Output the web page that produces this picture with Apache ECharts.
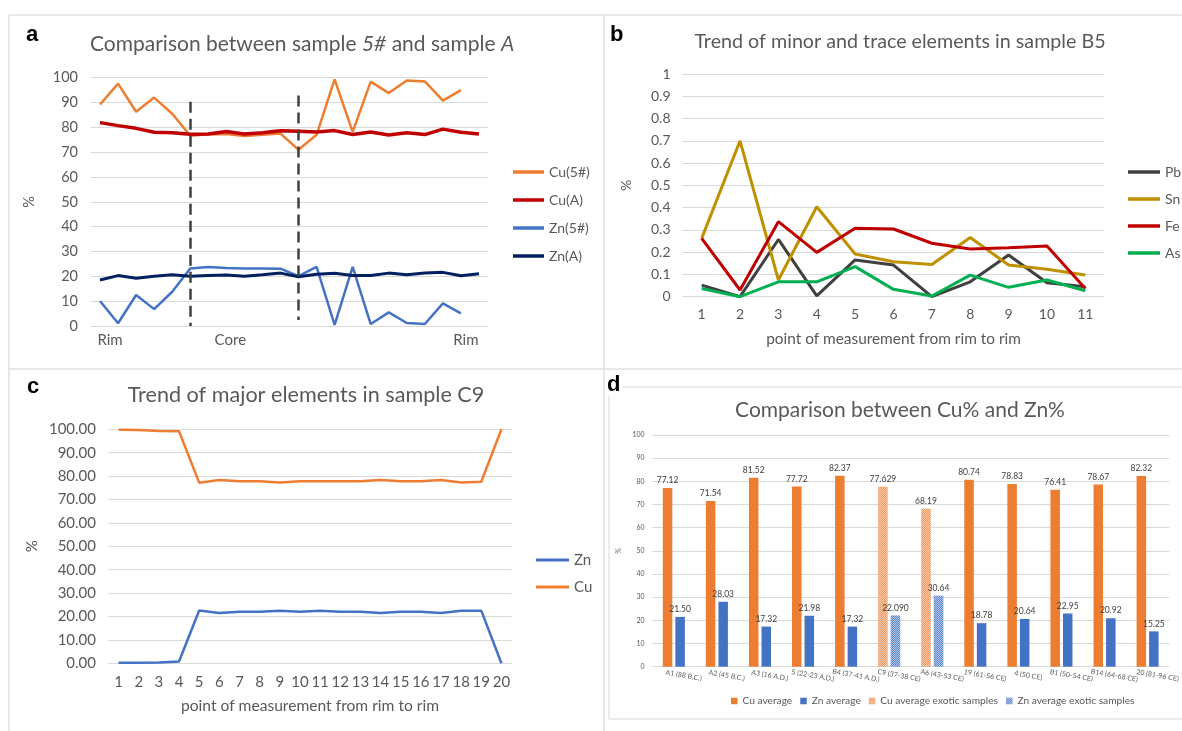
<!DOCTYPE html>
<html><head><meta charset="utf-8">
<script src="https://cdn.jsdelivr.net/npm/echarts@6/dist/echarts.min.js"></script>
<style>html,body{margin:0;padding:0;background:#fff}#c{width:1182px;height:731px}</style>
</head><body><div id="c"></div>
<script>
// ---------- Panel a ----------
const aCategories = ['1','2','3','4','5','6','7','8','9','10','11','12','13','14','15','16','17','18','19','20','21','22'];
const aTickLabels = ['Rim','','','','','','','Core','','','','','','','','','','','','','Rim',''];
const aCu5 = [89.2, 97.6, 86.3, 92.0, 85.5, 76.6, 77.2, 77.3, 76.5, 77.0, 77.5, 71.0, 77.0, 99.3, 78.2, 98.4, 93.8, 98.9, 98.5, 90.8, 95.0, null];
const aCuA = [81.9, 80.7, 79.6, 78.0, 77.8, 77.2, 77.3, 78.3, 77.3, 77.8, 78.6, 78.4, 78.1, 78.7, 77.1, 78.1, 76.9, 77.8, 77.1, 79.3, 78.0, 77.3];
const aZn5 = [10.1, 1.1, 12.5, 6.8, 13.8, 23.2, 23.8, 23.4, 23.2, 23.2, 23.1, 20.1, 23.8, 0.5, 23.8, 0.8, 5.5, 1.2, 0.8, 9.1, 5.1, null];
const aZnA = [18.5, 20.3, 19.2, 20.0, 20.6, 20.0, 20.3, 20.5, 20.0, 20.6, 21.3, 19.8, 20.8, 21.2, 20.3, 20.3, 21.3, 20.6, 21.3, 21.6, 20.2, 21.0];
const aDividers = [{at:'6', from:90.3, to:0}, {at:'12', from:92.8, to:2.4}];

// ---------- Panel b ----------
const bCategories = ['1','2','3','4','5','6','7','8','9','10','11'];
const bPb = [0.052, 0.0, 0.257, 0.004, 0.165, 0.142, 0.0, 0.067, 0.187, 0.063, 0.045];
const bSn = [0.262, 0.700, 0.075, 0.404, 0.192, 0.157, 0.145, 0.266, 0.142, 0.123, 0.097];
const bFe = [0.262, 0.030, 0.337, 0.199, 0.307, 0.304, 0.240, 0.214, 0.220, 0.228, 0.037];
const bAs = [0.037, 0.0, 0.067, 0.067, 0.135, 0.033, 0.003, 0.097, 0.042, 0.075, 0.027];

// ---------- Panel c ----------
const cCategories = ['1','2','3','4','5','6','7','8','9','10','11','12','13','14','15','16','17','18','19','20'];
const cZn = [0.2, 0.2, 0.3, 0.8, 22.6, 21.5, 22.0, 22.0, 22.5, 22.0, 22.5, 22.0, 22.0, 21.5, 22.0, 22.0, 21.5, 22.5, 22.5, 0.0];
const cCu = [99.8, 99.7, 99.3, 99.2, 77.2, 78.3, 77.8, 77.8, 77.3, 77.8, 77.8, 77.8, 77.8, 78.3, 77.8, 77.8, 78.3, 77.3, 77.6, 100.0];

// ---------- Panel d ----------
const dCategories = ['A1 (88 B.C.)','A2 (45 B.C.)','A3 (16 A.D.)','5 (22-23 A.D.)','B4 (37-41 A.D.)','C9 (37-38 CE)','A6 (43-53 CE)','19 (61-56 CE)','4 (50 CE)','B1 (50-54 CE)','B14 (64-68 CE)','20 (81-96 CE)'];
const dCu = [77.12, 71.54, 81.52, 77.72, 82.37, 77.629, 68.19, 80.74, 78.83, 76.41, 78.67, 82.32];
const dZn = [21.50, 28.03, 17.32, 21.98, 17.32, 22.090, 30.64, 18.78, 20.64, 22.95, 20.92, 15.25];
const dCuText = ['77.12','71.54','81.52','77.72','82.37','77.629','68.19','80.74','78.83','76.41','78.67','82.32'];
const dZnText = ['21.50','28.03','17.32','21.98','17.32','22.090','30.64','18.78','20.64','22.95','20.92','15.25'];
const dExotic = [false,false,false,false,false,true,true,false,false,false,false,false];

const TXT = '#595959', GRID = '#d9d9d9', FONT = 'Lato';
const chart = echarts.init(document.getElementById('c'), null, {renderer:'canvas'});

function lineSeries(name, data, color, width, xi) {
  return {type:'line', name, data, xAxisIndex:xi, yAxisIndex:xi, showSymbol:false, symbol:'none',
    connectNulls:false, itemStyle:{color}, lineStyle:{color, width}, emphasis:{disabled:true}};
}
function yAx(gi, min, max, interval, fs, margin, fmt, nameGap) {
  return {type:'value', gridIndex:gi, min, max, interval, name:'%', nameLocation:'middle', nameRotate:90, nameGap,
    nameTextStyle:{color:TXT, fontSize:fs, fontFamily:FONT},
    axisLine:{show:false}, axisTick:{show:false},
    axisLabel:{color:TXT, fontSize:fs, fontFamily:FONT, margin, formatter:fmt},
    splitLine:{lineStyle:{color:GRID, width:1}}};
}
function xAx(gi, data, extra) {
  return Object.assign({type:'category', gridIndex:gi, data, boundaryGap:true,
    axisLine:{show:false}, axisTick:{show:false}, splitLine:{show:false}}, extra);
}

const cuNormal = dCu.map((v,i)=>dExotic[i]?null:v);
const cuExo = dCu.map((v,i)=>dExotic[i]?v:null);
const znNormal = dZn.map((v,i)=>dExotic[i]?null:v);
const znExo = dZn.map((v,i)=>dExotic[i]?v:null);
const checker = (c)=>({symbol:'rect', symbolSize:1, dashArrayX:[[1,1],[0,1,1,0]], dashArrayY:[1,0], color:c});
function barSeries(name, data, stack, color, texts, decal) {
  const s = {type:'bar', name, data, stack, xAxisIndex:3, yAxisIndex:3, barWidth:9.5, barGap:'32%',
    itemStyle:{color}, emphasis:{disabled:true},
    label:{show:true, position:'top', distance:3, fontSize:8.5, color:'#404040', fontFamily:FONT,
      formatter:p=> (p.value==null? '' : texts[p.dataIndex])}};
  if (decal) s.itemStyle.decal = decal;
  return s;
}

const option = {
  animation:false,
  backgroundColor:'#ffffff',
  textStyle:{fontFamily:FONT},
  graphic:[
    {type:'line', shape:{x1:9,y1:15,x2:1182,y2:15}, style:{stroke:'#e0e0e0', lineWidth:1.5}},
    {type:'line', shape:{x1:9,y1:15,x2:9,y2:731}, style:{stroke:'#e0e0e0', lineWidth:1.5}},
    {type:'line', shape:{x1:604,y1:15,x2:604,y2:731}, style:{stroke:'#e0e0e0', lineWidth:1.5}},
    {type:'line', shape:{x1:9,y1:369,x2:1182,y2:369}, style:{stroke:'#e0e0e0', lineWidth:1.5}},
    {type:'line', shape:{x1:609,y1:387,x2:1182,y2:387}, style:{stroke:'#e6e6e6', lineWidth:1.5}},
    {type:'line', shape:{x1:609,y1:387,x2:609,y2:719}, style:{stroke:'#e6e6e6', lineWidth:1.5}},
    {type:'line', shape:{x1:609,y1:719,x2:1182,y2:719}, style:{stroke:'#e6e6e6', lineWidth:1.5}}
  ],
  title:[
    {text:'a', left:26, top:24, padding:0, textStyle:{fontFamily:'Liberation Sans', fontWeight:'bold', fontSize:22, color:'#000'}},
    {text:'Comparison between sample {i|5#} and sample {i|A}', left:90, top:31, padding:0,
      textStyle:{fontSize:21, lineHeight:26, color:TXT, fontWeight:'normal', fontFamily:FONT,
        rich:{i:{fontStyle:'italic', fontSize:21, lineHeight:26, color:TXT, fontFamily:FONT}}}},
    {text:'b', left:610, top:24, padding:0, textStyle:{fontFamily:'Liberation Sans', fontWeight:'bold', fontSize:22, color:'#000'}},
    {text:'Trend of minor and trace elements in sample B5', left:900, textAlign:'center', top:29, padding:0,
      textStyle:{fontSize:19.7, lineHeight:25, color:TXT, fontWeight:'normal', fontFamily:FONT}},
    {text:'c', left:27, top:376, padding:0, textStyle:{fontFamily:'Liberation Sans', fontWeight:'bold', fontSize:22, color:'#000'}},
    {text:'Trend of major elements in sample C9', left:306, textAlign:'center', top:382, padding:0,
      textStyle:{fontSize:21.6, lineHeight:27, color:TXT, fontWeight:'normal', fontFamily:FONT}},
    {text:'d', left:607, top:374, padding:[0,2,0,0], backgroundColor:'#fff', textStyle:{fontFamily:'Liberation Sans', fontWeight:'bold', fontSize:22, color:'#000'}},
    {text:'Comparison between Cu% and Zn%', left:900, textAlign:'center', top:397, padding:0,
      textStyle:{fontSize:21, lineHeight:26, color:TXT, fontWeight:'normal', fontFamily:FONT}}
  ],
  legend:[
    {data:['Cu(5#)','Cu(A)','Zn(5#)','Zn(A)'], orient:'vertical', left:513, top:164, padding:0, itemGap:12,
      icon:'rect', itemWidth:31, itemHeight:3.5, textStyle:{color:TXT, fontSize:14, lineHeight:16, fontFamily:FONT}},
    {data:['Pb','Sn','Fe','As'], orient:'vertical', left:1128, top:164, padding:0, itemGap:11,
      icon:'rect', itemWidth:32, itemHeight:3.5, textStyle:{color:TXT, fontSize:14, lineHeight:16, fontFamily:FONT}},
    {data:['Zn','Cu'], orient:'vertical', left:536, top:552, padding:0, itemGap:11,
      icon:'rect', itemWidth:33, itemHeight:3, textStyle:{color:TXT, fontSize:15, lineHeight:16, fontFamily:FONT}},
    {data:['Cu average','Zn average','Cu average exotic samples','Zn average exotic samples'], orient:'horizontal',
      left:731, top:696, padding:0, itemGap:8, icon:'rect', itemWidth:6.5, itemHeight:6.5,
      textStyle:{color:TXT, fontSize:10.2, fontFamily:FONT}}
  ],
  grid:[
    {left:91, top:77.7, width:397, height:248.3},
    {left:682.5, top:74, width:422, height:222.7},
    {left:108.5, top:429.3, width:403, height:234},
    {left:652.3, top:435, width:521.4, height:231.7}
  ],
  xAxis:[
    xAx(0, aCategories, {axisLabel:{interval:0, color:TXT, fontSize:15, fontFamily:FONT, margin:7,
      formatter:(v,i)=> aTickLabels[i] ? '{p'+i+'|'+aTickLabels[i]+'}' : '',
      rich:{p0:{padding:[0,0,0,20], fontSize:15, color:TXT, fontFamily:FONT},
            p7:{padding:[0,0,0,8], fontSize:15, color:TXT, fontFamily:FONT},
            p20:{padding:[0,0,0,10], fontSize:15, color:TXT, fontFamily:FONT}}}}),
    xAx(1, bCategories, {name:'point of measurement from rim to rim', nameLocation:'middle', nameGap:35,
      nameTextStyle:{color:TXT, fontSize:15.4, fontFamily:FONT},
      axisLabel:{interval:0, color:TXT, fontSize:14, fontFamily:FONT, margin:11}}),
    xAx(2, cCategories, {name:'point of measurement from rim to rim', nameLocation:'middle', nameGap:35,
      nameTextStyle:{color:TXT, fontSize:15.6, fontFamily:FONT},
      axisLabel:{interval:0, color:TXT, fontSize:15, fontFamily:FONT, margin:11}}),
    xAx(3, dCategories, {axisLabel:{interval:0, color:TXT, fontSize:7, fontFamily:FONT, margin:7, rotate:-10,
      align:'center', padding:[0,0,0,20]}})
  ],
  yAxis:[
    yAx(0, 0, 100, 10, 14.5, 13, null, 54),
    yAx(1, 0, 1, 0.1, 14, 12, v=>String(Math.round(v*10)/10), 49.5),
    yAx(2, 0, 100, 10, 15, 12.5, v=>v.toFixed(2), 68.5),
    yAx(3, 0, 100, 10, 7, 7.7, null, 30)
  ],
  series:[
    lineSeries('Cu(5#)', aCu5, '#ED7D31', 2.5, 0),
    lineSeries('Cu(A)', aCuA, '#C00000', 3.5, 0),
    lineSeries('Zn(5#)', aZn5, '#4472C4', 2.5, 0),
    Object.assign(lineSeries('Zn(A)', aZnA, '#002060', 3, 0), {
      markLine:{silent:true, symbol:['none','none'], label:{show:false},
        lineStyle:{color:'#404040', type:[11,6], width:2.5},
        data: aDividers.map(d=>[{coord:[d.at, d.from]}, {coord:[d.at, d.to]}])}}),
    lineSeries('Pb', bPb, '#404040', 3, 1),
    lineSeries('Sn', bSn, '#BF9000', 3, 1),
    lineSeries('Fe', bFe, '#C00000', 3, 1),
    lineSeries('As', bAs, '#00B050', 3, 1),
    lineSeries('Zn', cZn, '#4472C4', 2.5, 2),
    lineSeries('Cu', cCu, '#ED7D31', 2.5, 2),
    barSeries('Cu average', cuNormal, 'cu', '#ED7D31', dCuText, null),
    barSeries('Zn average', znNormal, 'zn', '#4472C4', dZnText, null),
    barSeries('Cu average exotic samples', cuExo, 'cu', '#F8CBAD', dCuText, checker('#EE9A62')),
    barSeries('Zn average exotic samples', znExo, 'zn', '#B4C7E7', dZnText, checker('#5B85CF'))
  ]
};
chart.setOption(option);
</script></body></html>
